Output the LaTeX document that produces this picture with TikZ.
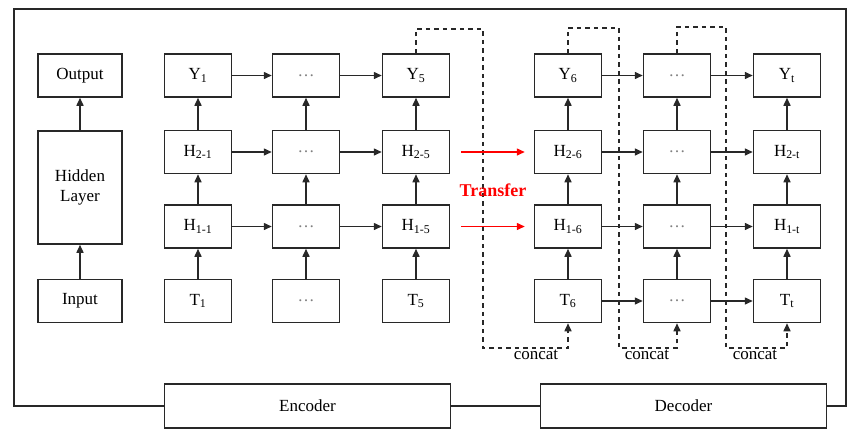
\documentclass[tikz,border=0pt]{standalone}
\usepackage{fontspec}
\setmainfont{Liberation Serif}
\usetikzlibrary{positioning,arrows.meta}

\definecolor{edge}{RGB}{40,40,40}

\tikzset{
  cell/.style={draw=edge, line width=1.5pt, minimum width=67pt, minimum height=43pt,
    inner sep=0pt, font=\fontsize{17}{20}\selectfont},
  wide/.style={cell, minimum width=84pt},
  bar/.style={cell, minimum width=286pt, minimum height=44pt},
  link/.style={draw=edge, line width=1.5pt, -{Triangle[length=8pt,width=7pt]}},
  skip/.style={draw=edge, line width=1.5pt, dash pattern=on 4.5pt off 4pt},
  transfer/.style={draw=red, line width=1.5pt, -{Triangle[length=8pt,width=7pt]},
    shorten <=11pt, shorten >=9pt},
  tag/.style={font=\fontsize{17}{20}\selectfont, inner sep=0pt},
}

\newcommand{\dotcell}{{\color{gray}\dots}}

\begin{document}
\begin{tikzpicture}[x=1pt,y=-1pt]

  \useasboundingbox (0,0) rectangle (862,429);

  % plain network
  \node[wide] (output) at (80,75.5) {Output};
  \node[wide, minimum height=113pt, align=center] (hidden) at (80,187.5) {Hidden\\Layer};
  \node[wide] (input) at (80,301) {Input};
  \draw[link] (input) -- (hidden);
  \draw[link] (hidden) -- (output);

  % unrolled cells
  \foreach \i/\x/\s in {1/198/1, 3/416/5, 4/568/6, 6/787/t}
  {
    \node[cell] (Y\i)  at (\x,75.5) {Y\textsubscript{\s}};
    \node[cell] (Hb\i) at (\x,152)  {H\textsubscript{2-\s}};
    \node[cell] (Ha\i) at (\x,226.5){H\textsubscript{1-\s}};
    \node[cell] (T\i)  at (\x,301)  {T\textsubscript{\s}};
  }
  \foreach \i/\x in {2/306, 5/677}
  {
    \node[cell] (Y\i)  at (\x,75.5) {\dotcell};
    \node[cell] (Hb\i) at (\x,152)  {\dotcell};
    \node[cell] (Ha\i) at (\x,226.5){\dotcell};
    \node[cell] (T\i)  at (\x,301)  {\dotcell};
  }

  % vertical links
  \foreach \i in {1,...,6}
  {
    \draw[link] (T\i) -- (Ha\i);
    \draw[link] (Ha\i) -- (Hb\i);
    \draw[link] (Hb\i) -- (Y\i);
  }

  % horizontal links
  \foreach \a/\b in {1/2, 2/3, 4/5, 5/6}
  {
    \draw[link] (Y\a) -- (Y\b);
    \draw[link] (Hb\a) -- (Hb\b);
    \draw[link] (Ha\a) -- (Ha\b);
  }
  \draw[link] (T4) -- (T5);
  \draw[link] (T5) -- (T6);

  % feedback of the outputs
  \draw[skip, -{Triangle[length=8pt,width=7pt]}] (Y3.north) |- (483,29) -- (483,348) -| (T4.south);
  \draw[skip, -{Triangle[length=8pt,width=7pt]}] (Y4.north) |- (619,28) -- (619,348) -| (T5.south);
  \draw[skip, -{Triangle[length=8pt,width=7pt]}] (Y5.north) |- (726,27) -- (726,348) -| (T6.south);
  \node[tag] (concat1) at (536,355) {concat};
  \node[tag] (concat2) at (647,355) {concat};
  \node[tag] (concat3) at (755,355) {concat};

  % transfer
  \draw[transfer] (Hb3) -- (Hb4);
  \draw[transfer] (Ha3) -- (Ha4);
  \node[font=\fontsize{18}{20}\selectfont\bfseries, text=red] (label) at (493,190) {Transfer};

  % encoder / decoder
  \node[bar] (encoder) at (307.5,406) {Encoder};
  \node[bar] (decoder) at (683.5,406) {Decoder};
  \draw[draw=edge, line width=1.5pt] (encoder.west) -- (14,406) -- (14,9) -- (846,9) -- (846,406) -- (decoder.east);
  \draw[draw=edge, line width=1.5pt] (encoder) -- (decoder);

\end{tikzpicture}
\end{document}
